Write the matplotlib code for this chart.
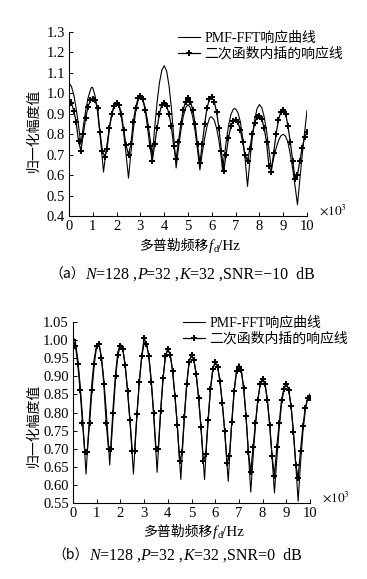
import numpy as np
import matplotlib
matplotlib.use("Agg")
import matplotlib.pyplot as plt
from matplotlib.lines import Line2D

plt.rcParams['font.family'] = ['Liberation Serif', 'Noto Sans CJK SC']
plt.rcParams['mathtext.fontset'] = 'stix'

SERIF = 'Liberation Serif'
CJK = 'Noto Sans CJK SC'

# ---- data (frequency in x10^3 Hz) ----
# panel (a): SNR = -10 dB, PMF-FFT response (dense)
fft_a_x = [0.0, 0.1, 0.2, 0.3, 0.4, 0.5, 0.6, 0.7, 0.8, 0.9, 0.95, 1.0, 1.1, 1.2, 1.3, 1.4, 1.45,
           1.5, 1.6, 1.7, 1.8, 1.9, 2.0, 2.1, 2.2, 2.3, 2.4, 2.5, 2.6, 2.7, 2.8, 2.9, 3.0,
           3.1, 3.2, 3.3, 3.4, 3.5, 3.6, 3.7, 3.8, 3.9, 4.0, 4.1, 4.2, 4.3, 4.4, 4.5, 4.6,
           4.7, 4.8, 4.9, 5.0, 5.1, 5.2, 5.3, 5.4, 5.5, 5.6, 5.7, 5.8, 5.9, 5.95, 6.0, 6.1,
           6.2, 6.3, 6.4, 6.45, 6.5, 6.6, 6.7, 6.8, 6.9, 6.95, 7.0, 7.1, 7.2, 7.3, 7.4, 7.5,
           7.6, 7.7, 7.8, 7.9, 8.0, 8.1, 8.2, 8.3, 8.4, 8.5, 8.6, 8.7, 8.8, 8.9, 9.0, 9.1,
           9.2, 9.3, 9.4, 9.5, 9.6, 9.7, 9.8, 9.9, 10.0]
fft_a_y = [1.050, 1.035, 0.993, 0.927, 0.843, 0.750, 0.837, 0.915, 0.977, 1.016, 1.030, 1.027,
           0.985, 0.908, 0.803, 0.680, 0.615, 0.663, 0.754, 0.836, 0.900, 0.940, 0.955, 0.937,
           0.885, 0.803, 0.700, 0.585, 0.709, 0.821, 0.909, 0.965, 0.985, 0.971, 0.930, 0.866,
           0.785, 0.695, 0.831, 0.955, 1.051, 1.113, 1.135, 1.110, 1.040, 0.930, 0.790, 0.635,
           0.731, 0.818, 0.886, 0.930, 0.945, 0.929, 0.884, 0.814, 0.724, 0.625, 0.710, 0.780,
           0.840, 0.878, 0.885, 0.883, 0.870, 0.830, 0.770, 0.680, 0.625, 0.670, 0.760, 0.840,
           0.895, 0.922, 0.925, 0.924, 0.905, 0.860, 0.780, 0.680, 0.545, 0.669, 0.781, 0.869,
           0.925, 0.945, 0.930, 0.885, 0.815, 0.728, 0.630, 0.683, 0.730, 0.768, 0.792, 0.800,
           0.790, 0.760, 0.700, 0.630, 0.545, 0.455, 0.580, 0.700, 0.810, 0.915]

# quadratic interpolation response, sampled every 0.1 x10^3 Hz
quad_x = np.round(np.arange(0, 10.01, 0.1), 1)
quad_a = [0.965, 0.955, 0.915, 0.860, 0.765, 0.720, 0.800, 0.880, 0.935, 0.965,
          0.970, 0.965, 0.930, 0.810, 0.720, 0.690, 0.730, 0.830, 0.900, 0.940,
          0.955, 0.945, 0.900, 0.820, 0.745, 0.700, 0.750, 0.860, 0.930, 0.975,
          0.985, 0.970, 0.920, 0.835, 0.740, 0.670, 0.750, 0.830, 0.900, 0.945,
          0.955, 0.940, 0.900, 0.840, 0.740, 0.680, 0.760, 0.850, 0.920, 0.960,
          0.975, 0.960, 0.920, 0.850, 0.750, 0.660, 0.750, 0.850, 0.930, 0.970,
          0.980, 0.960, 0.910, 0.830, 0.720, 0.620, 0.700, 0.780, 0.840, 0.865,
          0.870, 0.860, 0.820, 0.760, 0.700, 0.670, 0.730, 0.800, 0.855, 0.885,
          0.890, 0.875, 0.830, 0.760, 0.645, 0.615, 0.710, 0.800, 0.870, 0.910,
          0.920, 0.900, 0.840, 0.760, 0.670, 0.580, 0.600, 0.670, 0.735, 0.785,
          0.810]

# panel (b): SNR = 0 dB
fft_b_x = [0.0, 0.1, 0.2, 0.3, 0.4, 0.5, 0.55, 0.6, 0.7, 0.8, 0.9, 1.0, 1.05, 1.1, 1.2, 1.3,
           1.4, 1.5, 1.55, 1.6, 1.7, 1.8, 1.9, 2.0, 2.1, 2.2, 2.3, 2.4, 2.5, 2.55, 2.6, 2.7,
           2.8, 2.9, 3.0, 3.05, 3.1, 3.2, 3.3, 3.4, 3.5, 3.55, 3.6, 3.7, 3.8, 3.9, 4.0, 4.1,
           4.2, 4.3, 4.4, 4.5, 4.55, 4.6, 4.7, 4.8, 4.9, 5.0, 5.1, 5.2, 5.3, 5.4, 5.5, 5.55,
           5.6, 5.7, 5.8, 5.9, 6.0, 6.1, 6.2, 6.3, 6.4, 6.5, 6.55, 6.6, 6.7, 6.8, 6.9, 7.0,
           7.1, 7.2, 7.3, 7.4, 7.5, 7.6, 7.7, 7.8, 7.9, 8.0, 8.1, 8.2, 8.3, 8.4, 8.5, 8.6,
           8.7, 8.8, 8.9, 9.0, 9.1, 9.2, 9.3, 9.4, 9.5, 9.6, 9.7, 9.8, 9.9, 10.0]
fft_b_y = [1.010, 0.995, 0.949, 0.877, 0.790, 0.683, 0.630, 0.686, 0.793, 0.885, 0.951, 0.986,
           0.990, 0.986, 0.953, 0.892, 0.807, 0.707, 0.655, 0.713, 0.823, 0.912, 0.970, 0.990,
           0.976, 0.932, 0.864, 0.781, 0.680, 0.630, 0.687, 0.796, 0.888, 0.955, 0.991, 0.995,
           0.991, 0.956, 0.890, 0.798, 0.691, 0.635, 0.694, 0.805, 0.895, 0.955, 0.975, 0.960,
           0.917, 0.849, 0.766, 0.665, 0.615, 0.675, 0.788, 0.879, 0.939, 0.960, 0.946, 0.905,
           0.839, 0.760, 0.663, 0.615, 0.672, 0.778, 0.864, 0.920, 0.940, 0.927, 0.887, 0.825,
           0.749, 0.656, 0.610, 0.667, 0.773, 0.859, 0.915, 0.935, 0.917, 0.868, 0.790, 0.690,
           0.580, 0.678, 0.766, 0.835, 0.879, 0.895, 0.879, 0.835, 0.765, 0.676, 0.578, 0.672,
           0.756, 0.823, 0.865, 0.880, 0.864, 0.818, 0.746, 0.656, 0.555, 0.660, 0.745, 0.805,
           0.840, 0.852]
quad_b = [1.000, 0.985, 0.935, 0.862, 0.772, 0.692, 0.692, 0.772, 0.862, 0.935,
          0.985, 0.990, 0.950, 0.880, 0.772, 0.700, 0.700, 0.800, 0.900, 0.960,
          0.985, 0.975, 0.930, 0.860, 0.780, 0.695, 0.695, 0.795, 0.885, 0.955,
          1.005, 0.990, 0.955, 0.885, 0.800, 0.700, 0.700, 0.805, 0.895, 0.955,
          0.975, 0.960, 0.915, 0.845, 0.765, 0.665, 0.690, 0.788, 0.880, 0.940,
          0.960, 0.945, 0.905, 0.840, 0.760, 0.665, 0.685, 0.778, 0.864, 0.920,
          0.940, 0.927, 0.887, 0.825, 0.750, 0.660, 0.680, 0.773, 0.859, 0.915,
          0.925, 0.917, 0.868, 0.790, 0.690, 0.635, 0.705, 0.770, 0.835, 0.879,
          0.893, 0.879, 0.835, 0.765, 0.680, 0.625, 0.705, 0.770, 0.835, 0.865,
          0.880, 0.862, 0.818, 0.746, 0.656, 0.620, 0.695, 0.762, 0.812, 0.840,
          0.840]

yticks_a = [0.4, 0.5, 0.6, 0.7, 0.8, 0.9, 1.0, 1.1, 1.2, 1.3]
yticks_b = [0.55, 0.60, 0.65, 0.70, 0.75, 0.80, 0.85, 0.90, 0.95, 1.00, 1.05]
xticks = list(range(0, 11))
legend_labels = ['PMF-FFT响应曲线', '二次函数内插的响应线']

W, H = 367, 579
fig = plt.figure(figsize=(W / 100, H / 100), dpi=100)

MK = dict(marker='+', ms=5, mew=1.4)


def make_axes(rect, fft_x, fft_y, qy, yticks, fmt):
    ax = fig.add_axes(rect)
    ax.plot(fft_x, fft_y, color='black', lw=0.8)
    ax.plot(quad_x, qy, color='black', lw=0.9, **MK)
    ax.set_xlim(0, 10)
    ax.set_ylim(yticks[0], yticks[-1])
    ax.set_xticks(xticks)
    ax.set_yticks(yticks)
    ax.set_yticklabels([fmt % v for v in yticks])
    for s in ['top', 'right']:
        ax.spines[s].set_visible(False)
    for s in ['left', 'bottom']:
        ax.spines[s].set_linewidth(0.8)
    ax.tick_params(direction='in', length=3, width=0.7, labelsize=10.5, pad=3)
    for lab in ax.get_xticklabels() + ax.get_yticklabels():
        lab.set_family(SERIF)
    ax.text(1.05, -0.01, r'$\times10^3$', transform=ax.transAxes, fontsize=9.5,
            ha='left', va='bottom')
    return ax


def px(x, y):
    return x / W, 1 - y / H


ax_a = make_axes([69 / W, 1 - 216 / H, 238 / W, 184 / H], fft_a_x, fft_a_y, quad_a,
                 yticks_a, '%.1f')
ax_b = make_axes([73 / W, 1 - 503 / H, 237 / W, 181 / H], fft_b_x, fft_b_y, quad_b,
                 yticks_b, '%.2f')

handles = [Line2D([], [], color='black', lw=0.8),
           Line2D([], [], color='black', lw=0.9, **MK)]
for ax, (lx, ly) in [(ax_a, (178, 32)), (ax_b, (183, 317))]:
    ax.legend(handles, legend_labels, loc='upper left', bbox_to_anchor=px(lx, ly),
              bbox_transform=fig.transFigure, frameon=False,
              handlelength=1.6, handletextpad=0.3, borderpad=0, borderaxespad=0,
              labelspacing=0.15, numpoints=1,
              prop={'family': [SERIF, CJK], 'size': 10})

fig.text(*px(33, 130), '归一化幅度值', family=CJK, fontsize=10, rotation=90,
         ha='center', va='center')
fig.text(*px(33, 425), '归一化幅度值', family=CJK, fontsize=10, rotation=90,
         ha='center', va='center')

renderer = fig.canvas.get_renderer()


def draw_row(cx, cy, pieces):
    # pieces: (text, family, style, size, dy_px)
    objs = []
    for s, fam, sty, size, dy in pieces:
        t = fig.text(0, 0, s, family=fam, style=sty, fontsize=size, va='baseline')
        objs.append((t, dy))
    widths = [t.get_window_extent(renderer).width for t, _ in objs]
    x = cx - sum(widths) / 2
    base = cy + 4
    for (t, dy), w in zip(objs, widths):
        t.set_position(px(x, base + dy))
        x += w


def xlabel(cx, cy):
    draw_row(cx, cy, [('多普勒频移', CJK, 'normal', 10, 0),
                      ('f', SERIF, 'italic', 11, 0),
                      ('d', SERIF, 'normal', 7.5, 2.5),
                      ('/Hz', SERIF, 'normal', 11, 0)])


def caption(cx, cy, tag, snr):
    draw_row(cx, cy, [('（' + tag + '）', CJK, 'normal', 10, 0),
                      ('N', SERIF, 'italic', 11.5, 0),
                      ('=128 ,', SERIF, 'normal', 11.5, 0),
                      ('P', SERIF, 'italic', 11.5, 0),
                      ('=32 ,', SERIF, 'normal', 11.5, 0),
                      ('K', SERIF, 'italic', 11.5, 0),
                      ('=32 ,SNR=' + snr + '  dB', SERIF, 'normal', 11.5, 0)])


xlabel(190, 246)
xlabel(194, 532)
caption(182, 275, 'a', '\u221210')
caption(177, 556, 'b', '0')

fig.savefig('out.png', dpi=100)
